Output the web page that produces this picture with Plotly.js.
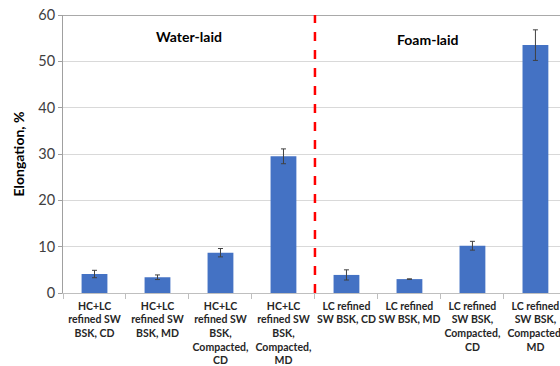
<!DOCTYPE html>
<html>
<head>
<meta charset="utf-8">
<script src="https://cdn.plot.ly/plotly-3.0.1.min.js"></script>
<style>html,body{margin:0;padding:0;background:#fff}#chart{width:560px;height:366px}</style>
</head>
<body>
<div id="chart"></div>
<script>
var categories = [
  "HC+LC<br>refined SW<br>BSK, CD",
  "HC+LC<br>refined SW<br>BSK, MD",
  "HC+LC<br>refined SW<br>BSK,<br>Compacted,<br>CD",
  "HC+LC<br>refined SW<br>BSK,<br>Compacted,<br>MD",
  "LC refined<br>SW BSK, CD",
  "LC refined<br>SW BSK, MD",
  "LC refined<br>SW BSK,<br>Compacted,<br>CD",
  "LC refined<br>SW BSK,<br>Compacted,<br>MD"
];
var elongation = [4.1, 3.4, 8.7, 29.5, 3.9, 3.0, 10.2, 53.5];
var errors = [0.8, 0.5, 0.9, 1.6, 1.1, 0.05, 0.95, 3.3];
var groupLabels = ["Water-laid", "Foam-laid"];

var font = "Lato, 'Open Sans', sans-serif";

var trace = {
  type: "bar",
  x: categories,
  y: elongation,
  marker: {color: "#4472C4", line: {width: 0}},
  error_y: {type: "data", array: errors, visible: true, color: "#404040", thickness: 1, width: 2.5},
  width: 0.41,
  hoverinfo: "y"
};

var layout = {
  width: 560, height: 366,
  margin: {l: 63, r: 0, t: 15, b: 73},
  paper_bgcolor: "#fff", plot_bgcolor: "#fff",
  showlegend: false,
  font: {family: font, color: "#595959"},
  xaxis: {
    type: "category",
    range: [-0.5, 7.39],
    tickson: "boundaries",
    ticks: "outside", ticklen: 5, tickcolor: "#bfbfbf",
    showline: true, linecolor: "#bfbfbf", linewidth: 1,
    showgrid: false,
    ticklabelstandoff: 3,
    tickfont: {family: font, size: 10.5, color: "#262626", weight: "bold"},
    tickangle: 0
  },
  yaxis: {
    range: [0, 60],
    dtick: 10,
    ticks: "outside", ticklen: 4, tickcolor: "#a0a0a0",
    showline: true, linecolor: "#a0a0a0", linewidth: 1,
    gridcolor: "#d9d9d9", gridwidth: 1,
    zeroline: false,
    tickfont: {family: font, size: 14.5, color: "#404040"},
    title: {text: "Elongation, %", font: {family: font, size: 14, color: "#000", weight: "bold"}, standoff: 10}
  },
  shapes: [
    {type: "line", xref: "paper", yref: "y", x0: 0, x1: 1, y0: 60, y1: 60, line: {color: "#8c8c8c", width: 1.5}},
    {type: "line", xref: "x", yref: "paper", x0: 3.5, x1: 3.5, y0: 0, y1: 1, line: {color: "#ff0000", width: 2.5, dash: "dash"}}
  ],
  annotations: [
    {xref: "x", yref: "y", x: 1.5, y: 55.3, text: "<b>" + groupLabels[0] + "</b>", showarrow: false, font: {family: font, size: 14, color: "#000"}},
    {xref: "x", yref: "y", x: 5.3, y: 54.8, text: "<b>" + groupLabels[1] + "</b>", showarrow: false, font: {family: font, size: 14, color: "#000"}}
  ]
};

Plotly.newPlot("chart", [trace], layout, {displayModeBar: false, staticPlot: true});
</script>
</body>
</html>
